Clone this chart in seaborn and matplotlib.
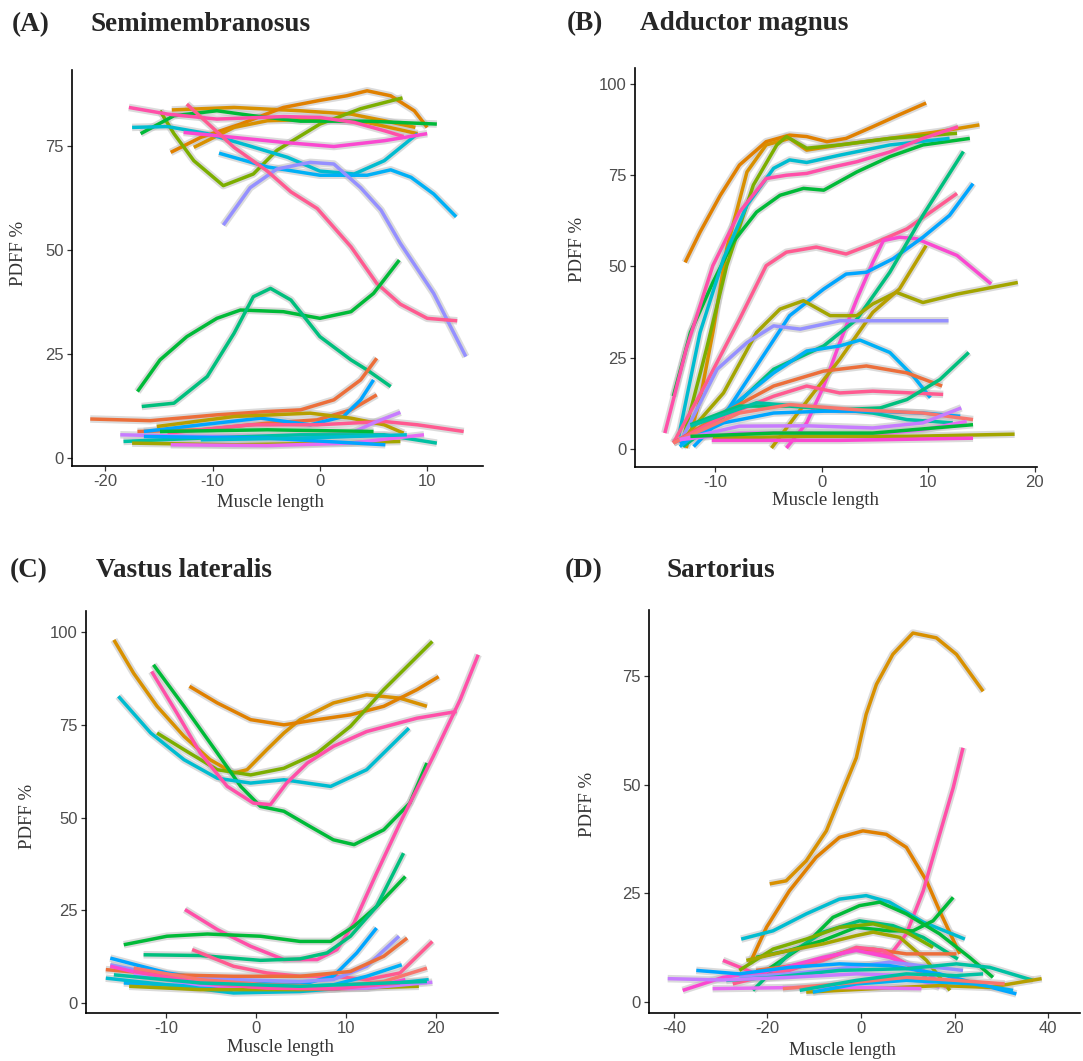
import matplotlib
matplotlib.use("Agg")
import matplotlib.pyplot as plt
import pandas as pd
import seaborn as sns

sns.set_style("white")
plt.rcParams['font.family'] = ['Liberation Sans', 'DejaVu Sans']

# ---------------- colours ----------------
OR1 = '#D89000'; OR2 = '#E08000'; OLV = '#A3A500'; OLG = '#B79F00'; OGR = '#7CAE00'
GRN = '#00BA38'; GR2 = '#00BF7D'; TGR = '#00C1A3'; TEA = '#00BCD0'; SKY = '#00B0F6'
BLU = '#00A5FF'; PUR = '#9590FF'; PU2 = '#C77CFF'; MAG = '#E76BF3'; MG2 = '#FA48D0'
PNK = '#FF4FA8'; PRD = '#FF5A90'; RED = '#F8766D'; ROR = '#EC6E3A'

# ---------------- (A) Semimembranosus ----------------
A_colors = [OR1, OR2, OR1, OGR, GRN, TEA, PNK, MG2, SKY, PUR, PRD,
            GRN, GR2, ROR, ROR, BLU, OLG, PRD, PU2, TGR, OLV, GRN, MAG, BLU, TEA]
A_x = [
    [-13.8, -8, -1.8, 2.9, 6, 8.9],
    [-13.9, -11.1, -7.4, -3.4, 0, 2.5, 4.4, 6.6, 8.8, 10],
    [-11.75, -8, -4.9, 0, 4.4, 9.1],
    [-14.9, -13.6, -11.75, -9, -6.2, -4, 0, 3.8, 7.7],
    [-16.7, -13.6, -9.6, -6.2, -1.8, 4.4, 10.9],
    [-17.5, -14.2, -10.5, -6.5, -3, 0, 3.2, 6, 9.1],
    [-17.8, -14.2, -9.6, -3.4, 0, 3.2, 6, 7.8],
    [-12.7, -8, -3.4, 1.3, 6, 10],
    [-9.4, -4.9, 0, 4.4, 6.6, 8.5, 10.6, 12.7],
    [-9, -6.5, -4, -0.9, 1.3, 3.8, 5.7, 7.5, 10.6, 13.6],
    [-12.4, -8, -4.9, -2.7, -0.25, 2.9, 5.3, 7.5, 10, 12.8],
    [-17, -14.9, -12.4, -9.6, -7.4, -3.4, 0, 2.9, 5, 7.4],
    [-16.6, -13.6, -10.5, -8, -6.2, -4.6, -2.7, 0, 2.9, 4.4, 6.6],
    [-21.4, -15.8, -9.6, -4.9, -1.8, 1.3, 3.8, 5.3],
    [-17, -11.1, -4.9, -0.25, 2.9, 5.3],
    [-16.4, -11.1, -5.5, -0.9, 2.2, 3.8, 5],
    [-15.2, -8, -0.9, 2.9, 6, 7.8],
    [-14.2, -6.5, -0.25, 6, 9.1, 13.4],
    [-18.6, -11.1, -3.4, 2.9, 5.3, 7.5],
    [-18.3, -11.1, -1.8, 6, 10.9],
    [-17.5, -8, 1.3, 7.5],
    [-14.9, -4.9, 5],
    [-13.9, -4.9, 2.9, 9.7],
    [-16.4, -4.9, 6.1],
    [-11.1, -1.8, 8.1],
]
A_y = [
    [83.7, 84.3, 83.5, 82.7, 81.1, 79.5],
    [73.5, 77.1, 80.3, 84.3, 86, 87.1, 88.3, 87.1, 83.5, 79.5],
    [74.7, 79.5, 81.1, 81.5, 80.7, 78],
    [83.5, 78, 71.5, 65.5, 68.3, 74, 80.3, 84, 86.6],
    [78, 82.3, 83.5, 82.3, 81, 81, 80.3],
    [79.5, 79.7, 78, 75, 72.3, 69, 68.3, 71.5, 78],
    [84.3, 82.7, 81.5, 82.1, 81.9, 80.7, 78.7, 77.3],
    [78.3, 77.1, 75.9, 74.9, 76.3, 78],
    [73.3, 70, 68, 68, 69.3, 67.5, 63.5, 58],
    [56, 65, 69.5, 71.1, 70.7, 65, 59.6, 51.6, 39.6, 24.4],
    [85.1, 74.7, 69, 64, 60, 50.8, 42, 37, 33.6, 33],
    [16, 23.6, 29.2, 33.6, 35.6, 35.2, 33.6, 35.2, 39.6, 47.6],
    [12.4, 13.2, 19.6, 30, 38.8, 40.8, 38, 29.2, 23.6, 21.2, 17.2],
    [9.4, 9, 10.4, 11.2, 11.6, 14, 18.8, 24],
    [6.4, 6.8, 8.4, 9.2, 11.6, 15.2],
    [6.4, 8, 9.6, 8, 10, 14, 18.8],
    [7.6, 10, 10.8, 9.6, 8, 6],
    [6, 8, 8, 8.8, 8, 6.4],
    [5.6, 5.2, 5.2, 6, 8.8, 11],
    [4, 4.8, 5.6, 5.6, 3.6],
    [3.6, 3.2, 3.6, 4],
    [6.4, 6.8, 6.4],
    [3.2, 3, 3.6, 5.6],
    [5.2, 4.8, 3.2],
    [4.4, 4.8, 5.6],
]

# ---------------- (B) Adductor magnus ----------------
B_colors = [OR2, OR1, OGR, GRN, TEA, PNK, PRD, MG2, BLU, GR2, OLV, OLG, PUR,
            SKY, ROR, PRD, GR2, TGR, BLU, RED, PU2, MAG, OLV, MG2, GRN]
B_x = [
    [-12.8, -11.4, -9.5, -7.7, -5.2, -3, -1.4, 0.5, 2.3, 4.8, 7.3, 9.8],
    [-12.7, -11.4, -10.2, -8.9, -7, -5.2, -3, -1.4, 1.7, 6.4, 11.1, 14.8],
    [-13, -10.8, -8.9, -6.4, -4.2, -3.3, -1.4, 1.7, 6.4, 12.7],
    [-13.9, -12.3, -10.2, -8.3, -6.1, -3.9, -1.7, 0.2, 3.3, 6.4, 9.5, 13.9],
    [-13.4, -11.4, -9.2, -7, -4.5, -3, -1.4, 1.7, 6.4, 12],
    [-14.7, -12.7, -10.2, -7.7, -5.2, -3.3, -1.4, 0.5, 3.3, 6.4, 9.5, 12.8],
    [-13.9, -10.8, -7.7, -5.2, -3.3, -0.5, 2.3, 4.8, 8, 12.7],
    [-3.3, -1.4, 0.2, 1.7, 3.3, 4.8, 5.8, 7.3, 8.9, 12.7, 15.9],
    [-12, -9.2, -6.1, -3, 0.2, 2.3, 4.2, 6.7, 9.5, 12, 14.2],
    [-13, -9.2, -4.5, 0.2, 3.3, 6.4, 9.5, 13.3],
    [-13.3, -9.2, -6.1, -3.9, -1.7, 0.8, 3.3, 4.8, 7, 9.5, 12.7, 18.4],
    [-4.7, -2, 1.7, 4.8, 7.3, 9.8],
    [-13.3, -9.8, -7, -4.5, -2, 1.7, 6.4, 11.9],
    [-13.3, -9.2, -4.5, -1.4, 1.7, 3.6, 6.4, 8.6, 10.2],
    [-13.9, -9.2, -4.5, 0.2, 4.2, 8, 11.3],
    [-13.9, -9.2, -4.5, -1.4, 1.7, 4.8, 11.4],
    [-12.3, -7.7, -3, 1.7, 5.5, 8, 11.1, 13.8],
    [-12.3, -6.1, 0.2, 4.8, 8, 12.3],
    [-13.3, -9.2, -4.5, 0.2, 4.8, 9.5, 13],
    [-13.9, -7.7, -3, 3.3, 9.5, 14.2],
    [-13.3, -7.7, -1.4, 4.8, 9.5, 13.1],
    [-13.3, -7.7, -1.4, 4.8, 9.5, 13.6],
    [-10.2, -1.4, 8, 18.1],
    [-10.3, 1.7, 14.2],
    [-12.3, -4.5, 4.8, 14.2],
]
B_y = [
    [51.1, 59.4, 69.5, 77.8, 84.2, 86, 85.6, 84.2, 85.1, 88.3, 91.6, 94.8],
    [0.2, 13.5, 31.9, 54.8, 75.9, 83.3, 85.1, 81.9, 83.3, 85.1, 87, 88.8],
    [2.5, 27.3, 50.2, 72.3, 83.3, 85.6, 82.4, 83.3, 85.1, 86.5],
    [14.4, 31.9, 45.6, 56.7, 64.9, 69.5, 71.4, 70.9, 75.9, 80.1, 83.3, 85.1],
    [3.4, 31.9, 52.1, 66.8, 76.9, 79.2, 78.5, 80.5, 83.3, 85.1],
    [4.3, 27.3, 50.2, 64.9, 74.1, 75, 75.5, 76.9, 78.7, 81.4, 85.1, 88.3],
    [1.6, 18.1, 35.5, 50.2, 53.9, 55.3, 53.4, 56.2, 60.3, 70],
    [0.2, 7.1, 17.2, 29.1, 41, 51.1, 57.1, 58, 57.6, 53, 45.2],
    [0.6, 8.9, 22.7, 36.5, 43.8, 47.9, 48.4, 52.1, 58, 64, 72.7],
    [0.6, 8.9, 21.8, 28.2, 35.5, 48.4, 64, 81.5],
    [1.6, 15.3, 31.9, 38.3, 40.6, 36.5, 36.5, 39.7, 42.9, 40.1, 42.4, 45.6],
    [0.2, 10.7, 24.5, 37.4, 43.8, 55.7],
    [1.6, 21.8, 29.1, 33.7, 32.8, 35.1, 35.1, 35.1],
    [0.6, 9.8, 20.8, 26.8, 28.2, 29.8, 26.4, 19.9, 14],
    [1.6, 9.8, 17.2, 21.3, 22.7, 20.8, 17.2],
    [1.6, 8.9, 14.4, 17.2, 15.3, 15.8, 14.9],
    [6.6, 11.7, 11.7, 10.7, 11.2, 13.5, 19, 26.4],
    [6.2, 12.6, 11.2, 9.8, 8, 7.1],
    [1.6, 7.1, 9.8, 10.3, 10.3, 9.8, 8.9],
    [1.6, 9.8, 12.1, 10.7, 9.8, 8],
    [2.5, 6.2, 6.3, 5.7, 7.1, 11.2],
    [2.5, 4.3, 4.3, 3.9, 5.2, 7.5],
    [2.9, 3.4, 3.4, 4],
    [2.3, 2.3, 2.9],
    [3.4, 4.3, 4.3, 6.6],
]

# ---------------- (C) Vastus lateralis ----------------
C_colors = [OR1, OR2, OGR, GRN, TEA, PNK, PNK, GRN, GR2, PRD, BLU, PUR, ROR,
            SKY, RED, MG2, TEA, OLV, PU2, PNK, TGR]
C_x = [
    [-15.8, -13.6, -11, -8, -5.1, -2.5, -1, 1.2, 3.1, 4.9, 8.6, 12.3, 16, 19],
    [-7.4, -4.3, -0.6, 3.1, 6.8, 10.5, 14.2, 17.9, 20.3],
    [-11, -8, -4.3, -0.6, 3.1, 6.8, 10.5, 14.2, 19.6],
    [-11.4, -8, -4.3, -1.7, 0.5, 3.1, 6, 8.6, 10.9, 14.2, 17.1, 19],
    [-15.3, -11.7, -8, -4.3, -0.6, 3.1, 8.3, 12.3, 17],
    [-11.6, -8.8, -6.2, -3.2, -0.3, 1.6, 3.4, 5.7, 8.6, 12.3, 17.9, 22.3],
    [-7.9, -4.3, -0.6, 3.1, 6.8, 9, 10.9, 13.4, 16, 19.7, 22.7, 24.7],
    [-14.7, -9.9, -5.4, 0.5, 4.9, 8.3, 10.9, 13.4, 16.6],
    [-12.5, -6.2, 0.5, 4.9, 7.9, 10.5, 13.4, 16.4],
    [-7.1, -2.5, 1.2, 4.9, 8.6, 12.3, 16, 19.6],
    [-16.2, -9.9, -2.5, 4.9, 8.6, 11.2, 13.4],
    [-16.2, -9.9, -2.5, 4.9, 8.6, 12.3, 15.9],
    [-16.7, -9.9, -2.5, 4.9, 10.5, 14.2, 16.8],
    [-14.7, -6.2, 1.2, 8.6, 12.3, 16.2],
    [-13.6, -6.2, 1.2, 8.6, 14.2, 19],
    [-16.2, -9.9, -2.5, 4.9, 12.3, 16.6],
    [-16.7, -9.9, -2.5, 4.9, 12.3, 19.2],
    [-14.1, -6.2, 4.9, 18.1],
    [-13.6, -6.2, 4.9, 12.3, 19.6],
    [-13.6, -6.2, 1.2, 8.6, 16],
    [-15.8, -6.2, 4.9, 19],
]
C_y = [
    [97.9, 88.9, 80, 71.9, 65.6, 62, 62.9, 68.3, 72.8, 76.4, 80.9, 83.1, 82.2, 80],
    [85.4, 80.9, 76.4, 75, 76.4, 77.7, 80, 84.5, 88],
    [72.8, 68.3, 62.9, 61.5, 63.3, 67.4, 74.6, 84.5, 97.5],
    [91.2, 80, 67.4, 58.4, 53, 51.7, 47.6, 44, 42.7, 46.7, 53.9, 64.7],
    [82.7, 72.8, 65.6, 60.6, 59.3, 60.2, 58.4, 62.9, 74.1],
    [89.4, 78.2, 67.4, 58.4, 53.9, 53.5, 59.3, 64.7, 69.2, 73.2, 76.8, 78.6],
    [25.2, 19.8, 15.3, 11.7, 11.7, 14.4, 21.6, 35, 48.5, 66.5, 81.8, 93.9],
    [15.7, 18, 18.6, 18, 16.6, 16.6, 20.7, 26, 34.1],
    [13, 12.8, 11.5, 11.9, 13.5, 18, 26, 40.4],
    [14.4, 9.9, 8.1, 7.2, 7.2, 6.3, 8.1, 16.6],
    [12.1, 8.1, 5.4, 4.9, 7.2, 13.5, 20.2],
    [10.3, 7.2, 6.3, 5.8, 6.3, 9.9, 18],
    [9, 7.6, 7.2, 7.2, 8.5, 12.6, 17.5],
    [5.4, 4.5, 4, 4.9, 7.2, 10.3],
    [9.4, 6.3, 4.9, 4.5, 5.8, 9.4],
    [9.9, 6.3, 4, 3.6, 4, 6.3],
    [6.7, 4.9, 2.7, 3.1, 4.5, 6.3],
    [4.5, 3.6, 3.6, 4.5],
    [7.6, 4.9, 4, 4, 5.6],
    [8.5, 5.4, 4, 3.8, 5.4],
    [7.6, 5.4, 4.5, 5.8],
]

# ---------------- (D) Sartorius ----------------
D_colors = [OR1, OR2, PNK, TEA, GRN, GR2, GRN, OGR, OLV, ROR, PRD, MG2, PUR,
            BLU, TGR, PU2, OLG, MAG, SKY, RED, TGR]
D_x = [
    [-19.5, -16, -11.7, -7.4, -3.9, -1, 1.1, 3.3, 6.8, 11.1, 16.1, 20.4, 26.1],
    [-23.8, -20.2, -15.3, -9.6, -4.6, 0.4, 5.4, 9.7, 14, 16.8, 21.1],
    [-29.5, -22.4, -15.3, -8.1, -1, 6.1, 9.7, 13.3, 16.8, 19.7, 21.8],
    [-25.6, -18.8, -11.7, -4.6, 1.1, 6.1, 13.3, 22.2],
    [-20.2, -11.7, -6, -0.3, 4, 9.7, 16.8, 23.2, 28.2],
    [-23.1, -15.3, -8.1, -0.3, 6.8, 13.3, 20.7],
    [-22.4, -15.3, -8.1, -1, 6.1, 11.1, 15.4, 19.7],
    [-26, -18.8, -11.7, -4.6, 2.6, 9.7, 15.4],
    [-24.5, -15.3, -8.1, -1, 2.6, 8.3, 14, 19],
    [-22.4, -11.7, -2.4, 2.6, 9.7, 20.4],
    [-27.4, -18.8, -8.1, -1, 4.7, 9.7, 14],
    [-38.1, -29.5, -18.8, -8.1, -1, 6.1, 13.3, 18.3],
    [-26, -15.3, -4.6, 6.1, 21.8],
    [-35.2, -26, -15.3, -4.6, 6.1, 16.8, 33.2],
    [-28.8, -18.8, -4.6, 9.7, 20.4, 27.5, 36.8],
    [-41.3, -29.5, -15.3, -1, 9.7, 16.8],
    [-11.7, 2.6, 16.8, 27.5, 38.6],
    [-31.7, -11.7, 2.6, 12.9],
    [-10.3, -1, 9.7, 24, 32.5],
    [-16.7, -4.6, 9.7, 20.4, 30.7],
    [-13.1, -1, 9.7, 20.4, 26.1],
]
D_y = [
    [27.2, 27.9, 32.5, 39.4, 48.6, 56.2, 66.2, 73.1, 80, 84.9, 83.8, 80, 71.5],
    [8.8, 17.2, 25.6, 33.3, 37.9, 39.4, 38.6, 35.6, 27.9, 21, 11.1],
    [9.6, 6.5, 7.3, 9.9, 12.2, 10.7, 15.7, 25.6, 38.6, 49.3, 58.5],
    [14.5, 16.4, 20.3, 23.7, 24.5, 23, 18.4, 14.5],
    [7.3, 13.4, 19.5, 22.2, 23, 20.3, 15.7, 10.3, 5.7],
    [2.7, 11.1, 16.1, 18.7, 17.6, 14.9, 9.9],
    [10.3, 11.9, 14.2, 17.2, 16.4, 16.4, 18.7, 24.1],
    [7.3, 12.2, 14.5, 17.2, 18, 16.1, 12.6],
    [9.6, 11.9, 13.4, 15.3, 16.1, 14.9, 9.6, 2.7],
    [7.3, 8.8, 11.9, 12.2, 11.1, 11.1],
    [4.2, 6.5, 9.6, 12.6, 11.9, 8.8, 5.7],
    [2.7, 5.7, 7.3, 10.3, 11.9, 10.3, 7.3, 3.4],
    [5.7, 6.5, 7.7, 9.2, 7.3],
    [7.3, 6.5, 8, 8.8, 8.4, 6.5, 1.9],
    [5, 5.7, 7.3, 7.7, 8.8, 8, 5],
    [5.4, 5.1, 5.7, 6.5, 6.1, 3.4],
    [2.3, 3.1, 3.8, 3.4, 5.4],
    [3.1, 3.4, 3.3, 3.1],
    [2.3, 4.2, 5, 4.2, 2.7],
    [3.1, 4.2, 5.7, 5, 4.2],
    [2.7, 5, 6.5, 6.1, 6.5],
]

W, H = 1083, 1061
fig = plt.figure(figsize=(W / 100, H / 100), dpi=100)


def make_ax(l, r, t, b):
    return fig.add_axes([l / W, 1 - b / H, (r - l) / W, (b - t) / H])


def draw(ax, xs, ys, cols):
    rows = []
    for i, (xv, yv) in enumerate(zip(xs, ys)):
        for a, b in zip(xv, yv):
            rows.append(('s%02d' % i, a, b))
    df = pd.DataFrame(rows, columns=['id', 'x', 'y'])
    pal = {'s%02d' % i: c for i, c in enumerate(cols)}
    sns.lineplot(data=df, x='x', y='y', units='id', estimator=None, color='#BEBEBE',
                 alpha=0.55, linewidth=5.4, ax=ax, legend=False, sort=False,
                 solid_joinstyle='round', solid_capstyle='butt')
    sns.lineplot(data=df, x='x', y='y', hue='id', palette=pal, estimator=None,
                 linewidth=2.5, ax=ax, legend=False, sort=False,
                 solid_joinstyle='round', solid_capstyle='butt')


def style(ax, xlim, ylim, xt, yt, xl, yl):
    ax.set_xlim(*xlim)
    ax.set_ylim(*ylim)
    ax.set_xticks(xt)
    ax.set_yticks(yt)
    ax.set_xticklabels([str(v) for v in xt], fontfamily='Liberation Sans')
    ax.set_yticklabels([str(v) for v in yt], fontfamily='Liberation Sans')
    for s in ['top', 'right']:
        ax.spines[s].set_visible(False)
    for s in ['left', 'bottom']:
        ax.spines[s].set_color('black')
        ax.spines[s].set_linewidth(1.2)
    ax.tick_params(bottom=True, left=True, direction='out', length=3.5, width=0.9,
                   color='#333333', labelcolor='#4D4D4D', labelsize=12, pad=2.5,
                   labelfontfamily='Liberation Sans')
    ax.set_xlabel('Muscle length', fontfamily='Liberation Serif', fontsize=13.5, color='#333333')
    ax.set_ylabel('PDFF %', fontfamily='Liberation Serif', fontsize=13.5, color='#333333')
    ax.xaxis.set_label_coords(*xl)
    ax.yaxis.set_label_coords(*yl)
    ax.xaxis.label.set_va('center')
    ax.yaxis.label.set_va('center')
    ax.grid(False)
    ax.set_facecolor('white')


axA = make_ax(72, 483, 70, 466)
draw(axA, A_x, A_y, A_colors)
style(axA, (-23.1, 15.2), (-1.9, 93.3), [-20, -10, 0, 10], [0, 25, 50, 75],
      (0.482, -0.093), (-0.129, 0.538))

axB = make_ax(635, 1037, 68, 467)
draw(axB, B_x, B_y, B_colors)
style(axB, (-17.5, 20.2), (-5.0, 104.4), [-10, 0, 10, 20], [0, 25, 50, 75, 100],
      (0.473, -0.083), (-0.144, 0.546))

axC = make_ax(86, 498, 611, 1013)
draw(axC, C_x, C_y, C_colors)
style(axC, (-18.9, 26.9), (-2.7, 105.7), [-10, 0, 10, 20], [0, 25, 50, 75, 100],
      (0.473, -0.087), (-0.143, 0.489))

axD = make_ax(649, 1080, 610, 1013)
draw(axD, D_x, D_y, D_colors)
style(axD, (-45.3, 46.8), (-2.5, 90.2), [-40, -20, 0, 20, 40], [0, 25, 50, 75],
      (0.448, -0.092), (-0.142, 0.517))

titles = [(12, 31, '(A)', 90, 'Semimembranosus'),
          (567, 30, '(B)', 640, 'Adductor magnus'),
          (10, 577, '(C)', 96, 'Vastus lateralis'),
          (565, 577, '(D)', 666, 'Sartorius')]
for lx, by, lab, tx, name in titles:
    fig.text(lx / W, 1 - by / H, lab, fontfamily='Liberation Serif', fontweight='bold',
             fontsize=19.5, va='baseline', ha='left')
    fig.text(tx / W, 1 - by / H, name, fontfamily='Liberation Serif', fontweight='bold',
             fontsize=19.5, va='baseline', ha='left')

fig.savefig('out.png', dpi=100, facecolor='white')
